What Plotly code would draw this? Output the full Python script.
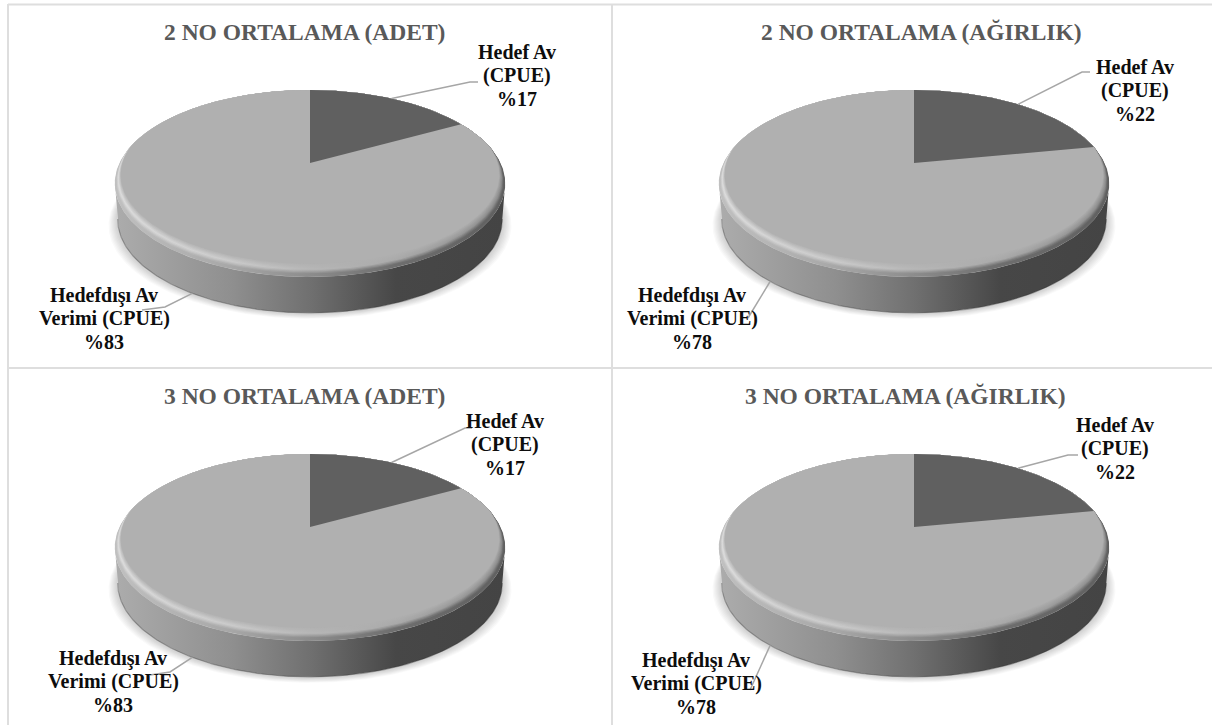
import numpy as np
import plotly.graph_objects as go

# Shares in percent for each pie
titles = ["2 NO ORTALAMA (ADET)", "2 NO ORTALAMA (AĞIRLIK)",
          "3 NO ORTALAMA (ADET)", "3 NO ORTALAMA (AĞIRLIK)"]
target_share = [17, 22, 17, 22]
other_share = [83, 78, 83, 78]
target_lines = ["Hedef Av", "(CPUE)"]
other_lines = ["Hedefdışı Av", "Verimi (CPUE)"]

# Pie centres and text anchors on the page, in pixels
centres = [(310, 163), (914, 163), (310, 527), (914, 527)]
title_pos = [(304, 32), (921, 32), (304, 396), (905, 396)]
target_label_pos = [(517, 52), (1135, 67), (505, 421), (1115, 425)]
other_label_pos = [(104, 295), (692, 295), (113, 658), (696, 660)]
target_elbow = [((470, 82), (478, 82)), ((1082, 72), (1090, 72)),
                ((465, 428), (472, 428)), ((1068, 455), (1078, 455))]
other_elbow = [((165, 307), (142, 310)), ((748, 318), (748, 318)),
               ((170, 672), (150, 675)), ((750, 690), (750, 690))]

# Perspective of the tilted disc
HALF_W, HALF_H, PERSP = 190.5, 89.0, 0.219
DEPTH = 36.0
BEVEL = 0.095
LINE_GAP = 23.5

FACE = "#b0b0b0"
TARGET = "#606060"
WALL_STOPS = [(0.0, (172, 172, 172)), (0.3, (143, 143, 143)), (0.5, (112, 112, 112)),
              (0.72, (71, 71, 71)), (1.0, (68, 68, 68))]
GLOW_STOPS = [(0.0, (222, 222, 222)), (0.3, (204, 204, 204)), (0.5, (184, 184, 184)),
              (0.72, (170, 170, 170)), (1.0, (140, 140, 140))]
FACE_RGB = (176, 176, 176)


def project(cx, cy, theta, radius=1.0, drop=0.0, shrink=1.0):
    """Map a clockwise angle from twelve o'clock on the disc to the page."""
    u = radius * np.sin(theta)
    v = radius * np.cos(theta)
    w = 1 + PERSP * v
    return cx + shrink * HALF_W * u / w, cy - HALF_H * v / w + drop


def bevel_radius(theta, amount):
    """Radius that pulls the front of the disc inward to leave room for the bevel."""
    squeeze = np.clip((0.2 - np.cos(theta)) / 1.2, 0, 1)
    return 1 - amount * BEVEL * squeeze


def rgb(c):
    return f"rgb({int(c[0])},{int(c[1])},{int(c[2])})"


def mix(a, b, t):
    return tuple(a[i] + (b[i] - a[i]) * t for i in range(3))


def rim_scale(t):
    stops = []
    for (pos, wall), (_, glow) in zip(WALL_STOPS, GLOW_STOPS):
        c = mix(wall, glow, t / 0.5) if t < 0.5 else mix(glow, FACE_RGB, (t - 0.5) / 0.5)
        stops.append([pos, rgb(c)])
    return stops


fig = go.Figure()


def add_poly(x, y, **kw):
    fig.add_trace(go.Scatter(x=x, y=y, mode="lines", line=dict(width=0), fill="toself",
                             hoverinfo="skip", showlegend=False, **kw))


def add_line(x, y, color, width):
    fig.add_trace(go.Scatter(x=x, y=y, mode="lines", line=dict(color=color, width=width),
                             hoverinfo="skip", showlegend=False))


# Panel frame
for xs, ys in [([8, 8], [4, 725]), ([8, 1212], [4.5, 4.5]),
               ([612, 612], [4, 725]), ([8, 1212], [368, 368])]:
    add_line(xs, ys, "#dedede", 2)

full = np.linspace(0, 2 * np.pi, 361)
edge = np.arcsin(1.0) + np.arctan(PERSP)  # right-hand extreme of the outline
front = np.linspace(edge, 2 * np.pi - edge, 200)

for i, (cx, cy) in enumerate(centres):
    share = target_share[i] / (target_share[i] + other_share[i])

    # Soft shadow under the disc
    for k in range(7, 0, -1):
        x, y = project(cx, cy, full, drop=DEPTH + 1 + k * 0.7, shrink=0.99 + k * 0.006)
        add_poly(x, y, fillcolor="rgba(0,0,0,0.022)")

    # Side wall
    tx, ty = project(cx, cy, front)
    bx, by = project(cx, cy, front, drop=DEPTH, shrink=0.985)
    add_poly(np.r_[tx, bx[::-1]], np.r_[ty, by[::-1]],
             fillgradient=dict(type="horizontal",
                               colorscale=[[p, rgb(c)] for p, c in WALL_STOPS]))
    add_line(bx, by, "rgba(50,50,50,0.35)", 1.2)

    # Bevel running along the front of the top face
    for t in np.linspace(0.0, 0.95, 12):
        x, y = project(cx, cy, full, bevel_radius(full, t))
        add_poly(x, y, fillgradient=dict(type="horizontal", colorscale=rim_scale(max(t, 0.2))))

    # Slices, clockwise from twelve o'clock
    end = 2 * np.pi * share
    arc = np.linspace(end, 2 * np.pi, 300)
    x, y = project(cx, cy, arc, bevel_radius(arc, 1))
    add_poly(np.r_[cx, x, cx], np.r_[cy, y, cy], fillcolor=FACE)
    arc = np.linspace(0, end, 120)
    x, y = project(cx, cy, arc, bevel_radius(arc, 1))
    add_poly(np.r_[cx, x, cx], np.r_[cy, y, cy], fillcolor=TARGET)

    # Leader lines start at the middle of each slice's outer edge
    sx, sy = project(cx, cy, np.array([np.pi * share]))
    (e1x, e1y), (e2x, e2y) = target_elbow[i]
    add_line([sx[0], e1x, e2x], [sy[0], e1y, e2y], "#a6a6a6", 1.5)
    sx, sy = project(cx, cy, np.array([end + np.pi * (1 - share)]), drop=DEPTH, shrink=0.985)
    (e1x, e1y), (e2x, e2y) = other_elbow[i]
    add_line([sx[0], e1x, e2x], [sy[0], e1y, e2y], "#a6a6a6", 1.5)


def add_text(x, y, text, size, color):
    fig.add_annotation(x=x, y=y, text=text, showarrow=False, xanchor="center", yanchor="middle",
                       font=dict(family="Liberation Serif", size=size, color=color))


for i in range(4):
    add_text(*title_pos[i], f"<b>{titles[i]}</b>", 23.5, "#595959")
    for lines, (lx, ly), value in ((target_lines, target_label_pos[i], target_share[i]),
                                   (other_lines, other_label_pos[i], other_share[i])):
        for j, line in enumerate(lines + [f"%{value}"]):
            add_text(lx, ly + j * LINE_GAP, f"<b>{line}</b>", 20, "#0d0d0d")

fig.update_xaxes(range=[0, 1212], visible=False, fixedrange=True)
fig.update_yaxes(range=[725, 0], visible=False, fixedrange=True)
fig.update_layout(width=1212, height=725, margin=dict(l=0, r=0, t=0, b=0),
                  paper_bgcolor="white", plot_bgcolor="white", hovermode=False)
fig.write_html("out.html", config=dict(displayModeBar=False))
